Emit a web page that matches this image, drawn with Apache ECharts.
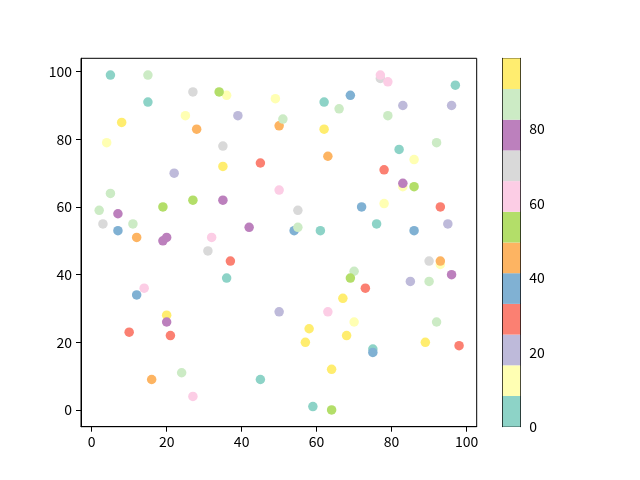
<!DOCTYPE html>
<html>
<head>
<meta charset="utf-8">
<script src="https://cdn.jsdelivr.net/npm/echarts@6/dist/echarts.min.js"></script>
<style>
  html, body { margin: 0; padding: 0; background: #fff; }
  #chart { width: 640px; height: 480px; }
</style>
</head>
<body>
<div id="chart"></div>
<script>
// scatter points
var xVals = [5, 15, 15, 27, 36, 34, 49, 8, 25, 39, 28, 50, 51, 4, 35, 35, 45, 22, 50, 5,
             2, 7, 19, 27, 35, 3, 11, 7, 12, 19, 20, 32, 42, 77, 77, 79, 97, 69, 62, 66,
             83, 96, 79, 62, 63, 82, 92, 86, 78, 83, 83, 86, 55, 78, 72, 93, 54, 55, 61, 76,
             86, 95, 31, 37, 36, 14, 12, 20, 20, 10, 21, 50, 24, 16, 45, 27, 70, 69, 73, 67,
             63, 70, 58, 57, 68, 75, 75, 64, 59, 64, 90, 93, 93, 96, 85, 90, 92, 89, 98];
var yVals = [99, 99, 91, 94, 93, 94, 92, 85, 87, 87, 83, 84, 86, 79, 78, 72, 73, 70, 65, 64,
             59, 58, 60, 62, 62, 55, 55, 53, 51, 50, 51, 51, 54, 98, 99, 97, 96, 93, 91, 89,
             90, 90, 87, 83, 75, 77, 79, 74, 71, 66, 67, 66, 59, 61, 60, 60, 53, 54, 53, 55,
             53, 55, 47, 44, 39, 36, 34, 28, 26, 23, 22, 29, 11, 9, 9, 4, 41, 39, 36, 33,
             29, 26, 24, 20, 22, 18, 17, 12, 1, 0, 44, 43, 44, 40, 38, 38, 26, 20, 19];
var cVals = [4, 87, 4, 70, 12, 54, 12, 95, 12, 21, 45, 45, 87, 12, 70, 95, 29, 21, 62, 87,
             87, 78, 54, 54, 78, 70, 87, 37, 45, 78, 78, 62, 78, 70, 62, 62, 4, 37, 4, 87,
             21, 21, 87, 95, 45, 4, 87, 12, 29, 12, 78, 54, 70, 12, 37, 29, 37, 87, 4, 4,
             37, 21, 70, 29, 4, 62, 37, 95, 78, 29, 29, 21, 87, 45, 4, 62, 87, 54, 29, 95,
             62, 12, 95, 95, 95, 4, 37, 95, 4, 54, 70, 12, 45, 78, 21, 87, 87, 95, 29];

// colormap (Set3) and colour range
var set3 = ['#8dd3c7', '#ffffb3', '#bebada', '#fb8072', '#80b1d3', '#fdb462',
            '#b3de69', '#fccde5', '#d9d9d9', '#bc80bd', '#ccebc5', '#ffed6f'];
var cMin = 0, cMax = 99;

// tick labels
var xTicks = [0, 20, 40, 60, 80, 100];
var yTicks = [0, 20, 40, 60, 80, 100];
var cbTicks = [0, 20, 40, 60, 80];

var points = xVals.map(function (x, i) { return [x, yVals[i], cVals[i]]; });

var step = (cMax - cMin) / set3.length;
var pieces = set3.map(function (col, i) {
  return { gte: cMin + i * step, lt: cMin + (i + 1) * step, color: col };
});
pieces[pieces.length - 1].lte = cMax; delete pieces[pieces.length - 1].lt;

var font = 'Noto Sans CJK SC';
var axisLine = { show: true, onZero: false, lineStyle: { color: '#000', width: 1 } };
var lbl = { color: '#000', fontFamily: font, fontSize: 14 };

// colorbar segments as a stack of bars
var cbSeries = set3.map(function (col) {
  return {
    type: 'bar', stack: 'cb', xAxisIndex: 1, yAxisIndex: 1,
    data: [step], barWidth: '100%', silent: true,
    itemStyle: { color: col }
  };
});

var myChart = echarts.init(document.getElementById('chart'), null, { renderer: 'canvas' });
myChart.setOption({
  backgroundColor: '#fff',
  animation: false,
  grid: [
    { left: 81, top: 58.3, width: 395.7, height: 368.4, show: true, borderColor: '#000', borderWidth: 1 },
    { left: 502.7, top: 58.3, width: 17.6, height: 368.4 }
  ],
  xAxis: [
    { gridIndex: 0, type: 'value', min: -2.85, max: 102.7, splitLine: { show: false }, axisLine: axisLine,
      axisTick: { customValues: xTicks, length: 5, lineStyle: { color: '#000' } },
      axisLabel: Object.assign({ customValues: xTicks, margin: 8 }, lbl) },
    { gridIndex: 1, type: 'category', data: ['c'], position: 'bottom', axisLine: axisLine,
      axisTick: { show: false }, axisLabel: { show: false } },
    { gridIndex: 1, type: 'category', data: ['c'], position: 'top', axisLine: axisLine,
      axisTick: { show: false }, axisLabel: { show: false } }
  ],
  yAxis: [
    { gridIndex: 0, type: 'value', min: -4.95, max: 103.95, splitLine: { show: false }, axisLine: axisLine,
      axisTick: { customValues: yTicks, length: 5, lineStyle: { color: '#000' } },
      axisLabel: Object.assign({ customValues: yTicks, margin: 9 }, lbl) },
    { gridIndex: 1, type: 'value', min: cMin, max: cMax, position: 'right', splitLine: { show: false },
      axisLine: axisLine,
      axisTick: { customValues: cbTicks, length: 5, lineStyle: { color: '#000' } },
      axisLabel: Object.assign({ customValues: cbTicks, margin: 9 }, lbl) },
    { gridIndex: 1, type: 'value', min: cMin, max: cMax, position: 'left', splitLine: { show: false },
      axisLine: axisLine, axisTick: { show: false }, axisLabel: { show: false } }
  ],
  visualMap: {
    type: 'piecewise', show: false, dimension: 2, seriesIndex: 0, pieces: pieces
  },
  series: [
    { type: 'scatter', xAxisIndex: 0, yAxisIndex: 0, data: points,
      symbol: 'circle', symbolSize: 9.5, itemStyle: { opacity: 1 } }
  ].concat(cbSeries)
});
</script>
</body>
</html>
